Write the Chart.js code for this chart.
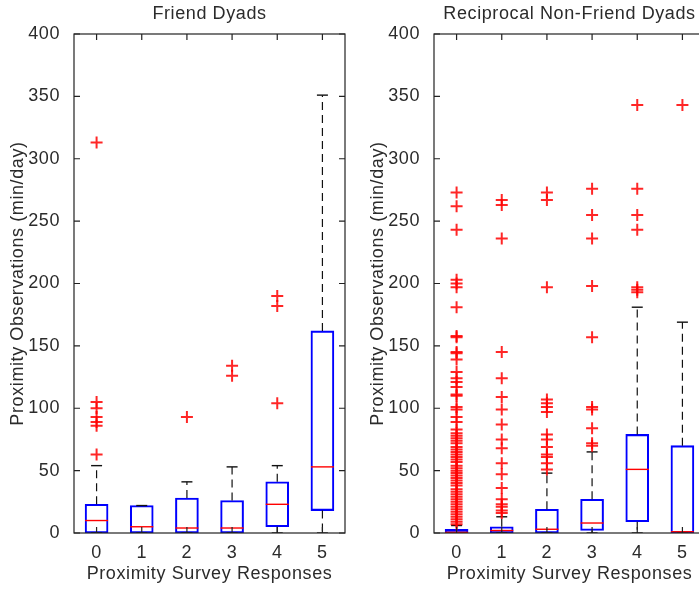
<!DOCTYPE html>
<html>
<head>
<meta charset="utf-8">
<script src="https://cdn.jsdelivr.net/npm/chart.js@4.4.1/dist/chart.umd.min.js"></script>
<style>
html, body { margin: 0; padding: 0; background: #fff; overflow: hidden; }
#wrap { position: relative; width: 699px; height: 589px; overflow: hidden; }
canvas { position: absolute; top: 0; }
#friend { left: 0; }
#nonfriend { left: 360px; }
</style>
</head>
<body>
<div id="wrap">
  <canvas id="friend" width="420" height="589"></canvas>
  <canvas id="nonfriend" width="419" height="589"></canvas>
</div>
<script>
var responses = [0, 1, 2, 3, 4, 5]
var yTicks = [0, 50, 100, 150, 200, 250, 300, 350, 400]

// Friend Dyads
var friendQ1 = [0, 0, 0, 0, 5, 18]
var friendMed = [10, 5, 4, 4, 23, 53]
var friendQ3 = [23, 22, 28, 26, 41, 162]
var friendLo = [0, 0, 0, 0, 0, 0]
var friendHi = [54, 22, 41, 53, 54, 351]
var friendOut = [
    [63, 86, 89, 93, 100, 105, 313],
    [],
    [93],
    [126, 134],
    [104, 182, 190],
    []
]

// Reciprocal Non-Friend Dyads
var nonQ1 = [0, 0, 0, 2, 9, 0]
var nonMed = [0.5, 2, 3, 8, 51, 1]
var nonQ3 = [3, 5, 19, 27, 79, 70]
var nonLo = [0, 0, 0, 0, 0, 0]
var nonHi = [6, 13, 48, 65, 181, 169]
var nonOut = [
    [7, 9, 11, 13, 15, 17, 19, 21, 23, 25, 27, 29, 31, 33, 35, 38, 40, 42, 44, 46, 48, 50, 52, 54,
     57, 59, 61, 63, 65, 67, 69, 72, 74, 76, 78, 80, 83, 89, 93, 99, 101, 110, 111, 117, 121, 124,
     129, 139, 144, 145, 157, 158, 181, 197, 200, 203, 243, 262, 273],
    [16, 18, 21, 23, 27, 36, 47, 56, 68, 75, 87, 99, 109, 124, 145, 236, 263, 267],
    [51, 56, 61, 63, 69, 75, 79, 97, 101, 104, 107, 197, 267, 273],
    [70, 72, 84, 99, 101, 157, 198, 236, 255, 276],
    [193, 195, 197, 243, 255, 276, 343],
    [343]
]

var textColor = '#2b2b2b'
var font18 = { family: '"Liberation Sans", Arial, sans-serif', size: 18, weight: 'normal' }

// the original text is a little wider than Liberation Sans
var spacingPlugin = {
    id: 'spacing',
    beforeLayout: function (chart) { chart.ctx.letterSpacing = '0.6px' },
    beforeDraw: function (chart) { chart.ctx.letterSpacing = '0.6px' }
}

// matlab style box around the axes with ticks pointing inwards
var framePlugin = {
    id: 'frame',
    afterDatasetsDraw: function (chart) {
        var ctx = chart.ctx, a = chart.chartArea
        var x = chart.scales.x, y = chart.scales.y
        var len = 6
        ctx.save()
        ctx.strokeStyle = '#222'
        ctx.lineWidth = 1.2
        ctx.strokeRect(a.left, a.top, a.right - a.left, a.bottom - a.top)
        ctx.beginPath()
        x.ticks.forEach(function (t) {
            var px = x.getPixelForValue(t.value)
            ctx.moveTo(px, a.bottom); ctx.lineTo(px, a.bottom - len)
            ctx.moveTo(px, a.top); ctx.lineTo(px, a.top + len)
        })
        y.ticks.forEach(function (t) {
            var py = y.getPixelForValue(t.value)
            ctx.moveTo(a.left, py); ctx.lineTo(a.left + len, py)
            ctx.moveTo(a.right, py); ctx.lineTo(a.right - len, py)
        })
        ctx.stroke()
        ctx.restore()
    }
}

function make_boxplot(id, title, q1, med, q3, lo, hi, out, rightPad) {
    var boxes = [], medians = [], whiskers = [], caps = [], outliers = []
    for (var i = 0; i < responses.length; i++) {
        var c = responses[i]
        boxes.push({ x: c, y: [q1[i], q3[i]] })
        medians.push({ x: c, y: med[i] })
        whiskers.push({ x: c, y: q3[i] }, { x: c, y: hi[i] }, { x: c, y: null })
        whiskers.push({ x: c, y: q1[i] }, { x: c, y: lo[i] }, { x: c, y: null })
        caps.push({ x: c, y: hi[i] }, { x: c, y: lo[i] })
        for (var j = 0; j < out[i].length; j++) {
            outliers.push({ x: c, y: out[i][j] })
        }
    }

    var ctx = document.getElementById(id).getContext('2d')
    return new Chart(ctx, {
        type: 'bar',
        data: {
            datasets: [
                {
                    type: 'scatter', data: outliers, pointStyle: 'cross', pointRadius: 6,
                    borderColor: 'rgba(255,0,0,0.85)', borderWidth: 2, backgroundColor: '#ff0000'
                },
                {
                    type: 'scatter', data: medians, pointStyle: 'line', pointRadius: 11.5,
                    borderColor: '#ff0000', borderWidth: 1.4
                },
                {
                    type: 'scatter', data: caps, pointStyle: 'line', pointRadius: 5.5,
                    borderColor: '#111', borderWidth: 1.4
                },
                {
                    type: 'line', data: whiskers, spanGaps: false, pointRadius: 0,
                    borderColor: '#111', borderWidth: 1.2, borderDash: [8, 5], fill: false
                },
                {
                    type: 'bar', data: boxes, barThickness: 23, borderSkipped: false,
                    borderColor: '#0000ff', borderWidth: 1.4, backgroundColor: 'rgba(0,0,0,0)'
                }
            ]
        },
        options: {
            responsive: false,
            animation: false,
            events: [],
            layout: { padding: { left: 0, right: rightPad, top: 0, bottom: 0 } },
            plugins: {
                legend: { display: false },
                tooltip: { enabled: false },
                title: {
                    display: true, text: title, color: textColor, font: font18, fullSize: false,
                    padding: { top: 3, bottom: 9.4 }
                }
            },
            scales: {
                x: {
                    type: 'linear', min: -0.5, max: 5.5, offset: false,
                    grid: { display: false }, border: { display: false },
                    afterBuildTicks: function (s) { s.ticks = responses.map(function (v) { return { value: v } }) },
                    afterFit: function (s) { s.height = 56 },
                    ticks: { padding: 1, color: textColor, font: font18, maxRotation: 0 },
                    title: {
                        display: true, text: 'Proximity Survey Responses', color: textColor, font: font18,
                        padding: { top: 0, bottom: 4 }
                    }
                },
                y: {
                    type: 'linear', min: 0, max: 400,
                    grid: { display: false }, border: { display: false },
                    afterBuildTicks: function (s) { s.ticks = yTicks.map(function (v) { return { value: v } }) },
                    afterFit: function (s) { s.width = 74 },
                    ticks: { padding: 6, color: textColor, font: font18 },
                    title: {
                        display: true, text: 'Proximity Observations (min/day)', color: textColor, font: font18,
                        padding: { top: 7, bottom: 0 }
                    }
                }
            }
        },
        plugins: [spacingPlugin, framePlugin]
    })
}

make_boxplot('friend', 'Friend Dyads', friendQ1, friendMed, friendQ3, friendLo, friendHi, friendOut, 75)
make_boxplot('nonfriend', 'Reciprocal Non-Friend Dyads', nonQ1, nonMed, nonQ3, nonLo, nonHi, nonOut, 74)
</script>
</body>
</html>
